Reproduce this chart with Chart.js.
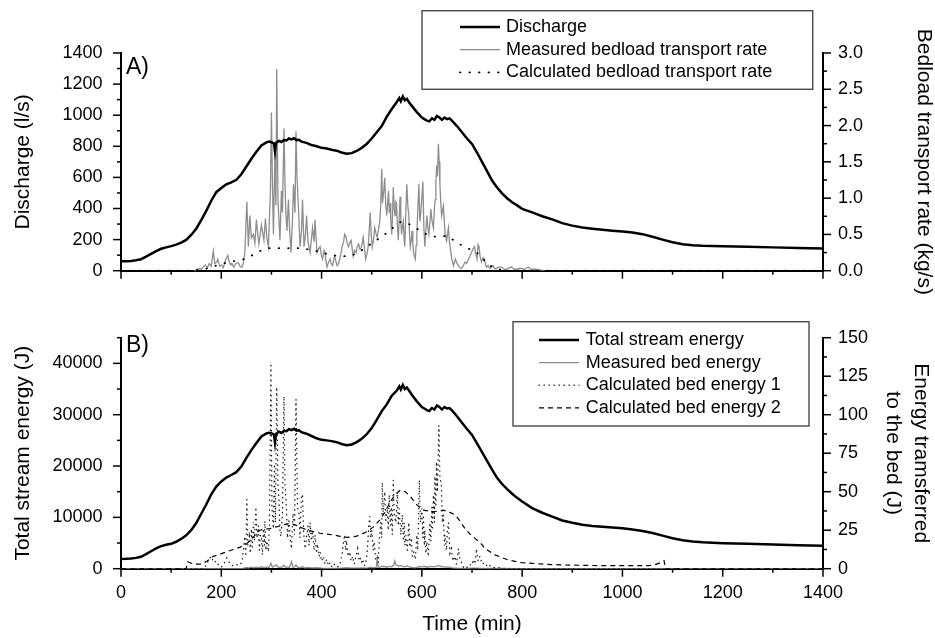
<!DOCTYPE html>
<html>
<head>
<meta charset="utf-8">
<script src="https://cdn.jsdelivr.net/npm/chart.js@4.4.1/dist/chart.umd.min.js"></script>
<style>
  html, body { margin: 0; padding: 0; background: #fff; }
  #wrap { position: relative; width: 935px; height: 638px; }
  canvas { position: absolute; left: 0; }
  #panelA { top: 0; }
  #panelB { top: 300px; }
</style>
</head>
<body>
<div id="wrap">
  <canvas id="panelA" width="935" height="300"></canvas>
  <canvas id="panelB" width="935" height="338"></canvas>
</div>
<script>
// ---- Data: [time (min), value] ----
const discharge = [ // l/s
  [0,60],[10,61],[20,63],[30,67],[40,74],[50,90],[60,108],[70,126],[80,141],[90,150],
  [100,158],[110,168],[120,180],[130,198],[140,230],[150,270],[160,325],[170,385],[180,450],[190,505],
  [200,532],[210,556],[220,568],[230,585],[240,620],[250,670],[260,720],[270,765],[280,805],[290,825],
  [295,830],[300,826],[305,818],[307,770],[309,822],[315,835],[320,828],[325,840],[330,838],[335,850],
  [340,844],[345,852],[350,840],[355,842],[360,830],[370,822],[380,808],[390,800],[400,790],[410,786],
  [420,778],[430,772],[440,760],[450,752],[460,756],[470,770],[480,790],[490,815],[500,850],[510,890],
  [520,930],[530,990],[540,1040],[550,1085],[555,1110],[558,1090],[562,1120],[566,1095],[570,1105],[575,1080],
  [580,1060],[590,1020],[600,985],[605,975],[610,965],[615,960],[620,980],[625,970],[630,995],[635,985],
  [640,970],[645,985],[650,975],[655,980],[660,965],[670,930],[680,890],[690,850],[700,815],[710,760],
  [720,700],[730,640],[740,580],[750,535],[760,497],[770,466],[780,440],[790,420],[800,398],[820,375],
  [840,350],[860,330],[880,306],[900,290],[920,278],[940,270],[960,263],[980,257],[1000,252],[1020,245],
  [1040,235],[1060,218],[1080,200],[1100,183],[1120,170],[1140,164],[1160,161],[1200,158],[1250,154],[1300,150],
  [1350,146],[1400,142]
];

const measuredBedload = [ // kg/s
  [145,0],[150,0.01],[155,0.03],[160,0.02],[165,0.06],[168,0.08],[172,0.04],[176,0.10],[180,0.06],[184,0.27],
  [187,0.10],[191,0.12],[193,0.16],[197,0.06],[200,0.08],[204,0.04],[208,0.14],[211,0.18],[213,0.21],[216,0.12],
  [219,0.08],[221,0.10],[225,0.05],[229,0.10],[234,0.11],[237,0.06],[241,0.05],[244,0.10],[247,0.25],[251,0.95],
  [254,0.33],[257,0.76],[260,0.45],[264,0.50],[267,0.38],[270,0.70],[273,0.48],[275,0.37],[280,0.63],[283,0.50],
  [285,0.42],[288,0.72],[291,0.45],[294,0.33],[298,1.10],[300,2.18],[302,1.20],[304,0.50],[307,1.62],[309,0.90],
  [310.6,2.78],[313,0.98],[317,0.42],[320,1.10],[322,0.80],[325,1.96],[327,1.20],[329,0.76],[331,0.55],[334,0.98],
  [336,0.60],[339,0.25],[342,0.70],[344,1.19],[347,0.80],[349,1.92],[351,1.30],[354,0.85],[357,0.33],[360,0.55],
  [362,0.98],[365,0.33],[368,0.50],[370,0.76],[373,0.40],[377,0.25],[380,0.45],[382,0.59],[385,0.40],[387,0.70],
  [389,0.45],[391,0.25],[394,0.30],[397,0.33],[400,0.20],[402,0.16],[405,0.28],[407,0.25],[409,0.12],[411,0.05],
  [414,0.12],[417,0.16],[419,0.10],[422,0.07],[424,0.14],[426,0.20],[429,0.12],[431,0.07],[434,0.10],[436,0.16],
  [439,0.25],[441,0.33],[444,0.40],[446,0.50],[449,0.46],[451,0.38],[454,0.33],[457,0.40],[459,0.42],[461,0.30],
  [463,0.20],[466,0.28],[469,0.25],[471,0.33],[474,0.37],[476,0.30],[478,0.29],[481,0.38],[483,0.46],[486,0.28],
  [488,0.16],[491,0.25],[493,0.33],[495,0.55],[497,0.80],[499,0.50],[501,0.33],[504,0.45],[506,0.59],[509,0.50],
  [511,0.46],[513,0.55],[516,0.68],[518,0.90],[520,1.40],[521.5,0.93],[524,1.10],[526,1.28],[528,0.90],[530,0.76],
  [532,0.95],[533.5,1.10],[535,0.80],[536.5,0.93],[538,0.70],[540,0.50],[541.5,0.75],[543,1.15],[545,0.85],[546.5,0.76],
  [548,0.95],[549.5,0.93],[551,0.65],[553,0.42],[555,0.75],[556.5,1.02],[558,0.70],[559.5,0.50],[561,0.60],[563,0.68],
  [564.5,0.45],[566,0.33],[568,0.80],[570,1.19],[572,0.90],[574,0.76],[575.5,0.50],[577,0.33],[579,0.42],[580.5,0.55],
  [582,0.38],[583.5,0.25],[585,0.20],[587,0.16],[588.5,0.35],[590,0.50],[592,0.85],[594,1.19],[596,0.68],[598,0.80],
  [600,1.00],[602,1.23],[604,0.60],[606,0.33],[608,0.55],[610,0.76],[612,0.60],[614,0.50],[616,0.65],[618,0.85],
  [620,0.70],[623,0.59],[625,0.85],[626.5,0.98],[628,1.20],[629.5,1.45],[631,1.30],[633,1.75],[634.5,1.50],[636,1.19],
  [638,0.90],[639.5,0.76],[641,0.82],[643,0.89],[645,0.65],[646.5,0.50],[648,0.45],[649.5,0.42],[651,0.50],[653,0.59],
  [655,0.40],[658,0.25],[660,0.15],[663,0.07],[665,0.12],[667,0.16],[670,0.10],[673,0.07],[676,0.04],[679,0.03],
  [682,0.06],[686,0.12],[689,0.10],[693,0.16],[696,0.20],[699,0.25],[702,0.30],[705,0.33],[707,0.25],[710,0.16],
  [712,0.36],[714,0.33],[716,0.20],[719,0.12],[722,0.18],[725,0.16],[727,0.08],[729,0.05],[732,0.07],[736,0.03],
  [739,0.06],[742,0.07],[745,0.03],[749,0.03],[752,0.05],[756,0.05],[759,0.05],[764,0.02],[769,0.02],[774,0.04],
  [779,0.05],[784,0.02],[789,0.02],[794,0.03],[799,0.03],[805,0.02],[812,0.05],[818,0.02],[826,0.02],[835,0.01],
  [845,0]
];

const calculatedBedload = [ // kg/s
  [0,0],[140,0],[150,0.01],[160,0.02],[171,0.03],[185,0.06],[198,0.09],[211,0.11],[224,0.13],[240,0.15],
  [254,0.18],[268,0.24],[280,0.28],[294,0.31],[310,0.31],[327,0.31],[345,0.31],[360,0.31],[375,0.29],[390,0.27],
  [405,0.24],[424,0.21],[440,0.20],[457,0.20],[470,0.24],[480,0.28],[490,0.33],[505,0.40],[523,0.48],[540,0.58],
  [557,0.67],[570,0.66],[585,0.60],[597,0.55],[610,0.50],[624,0.47],[637,0.47],[650,0.48],[663,0.42],[677,0.36],
  [690,0.31],[703,0.28],[715,0.22],[726,0.13],[736,0.07],[746,0.03],[760,0.01],[775,0],[1400,0]
];

const totalStreamEnergy = [ // J
  [0,1900],[10,1930],[20,1990],[30,2110],[40,2330],[50,2830],[60,3400],[70,3970],[80,4400],[90,4650],
  [100,4850],[110,5250],[120,5800],[130,6500],[140,7500],[150,8900],[160,10700],[170,12500],[180,14500],[190,16000],
  [200,17000],[210,17750],[220,18250],[230,18800],[240,19900],[250,21600],[260,23100],[270,24500],[280,25750],[290,26350],
  [295,26500],[300,26400],[305,26150],[307,24600],[309,26250],[315,26700],[320,26450],[325,26850],[330,26800],[335,27200],
  [340,27000],[345,27250],[350,26900],[355,26950],[360,26600],[370,26300],[380,25850],[390,25400],[400,25100],[410,25000],
  [420,24850],[430,24650],[440,24300],[450,24050],[460,24200],[470,24650],[480,25300],[490,26200],[500,27400],[510,29000],
  [520,30700],[530,32000],[540,33700],[550,34700],[555,35500],[558,34900],[562,35800],[566,35000],[570,35300],[575,34600],
  [580,33900],[590,32600],[600,31500],[605,31200],[610,30900],[615,30700],[620,31300],[625,31000],[630,31800],[635,31500],
  [640,31000],[645,31500],[650,31200],[655,31300],[660,30850],[670,29700],[680,28450],[690,27200],[700,26050],[710,24400],
  [720,22700],[730,21000],[740,19300],[750,17700],[760,16500],[770,15500],[780,14600],[790,13800],[800,13100],[820,11800],
  [840,10900],[860,10150],[880,9400],[900,8950],[920,8550],[940,8330],[960,8170],[980,8030],[1000,7870],[1020,7650],
  [1040,7350],[1060,6950],[1080,6450],[1100,5950],[1120,5560],[1140,5280],[1160,5150],[1200,4980],[1250,4860],[1300,4730],
  [1350,4580],[1400,4450]
];

const measuredBedEnergy = [ // J
  [0,0],[240,0],[245,0.3],[250,0.8],[255,0.5],[260,1.0],[265,0.6],[270,0.9],[275,0.6],[280,1.2],
  [285,0.7],[290,1.0],[295,0.8],[299,3.5],[302,1.0],[306,1.6],[310,2.6],[313,1.0],[318,0.8],[322,1.4],
  [325,2.2],[328,1.0],[332,1.2],[336,0.7],[340,4.5],[343,1.0],[346,1.2],[349,2.4],[352,1.0],[357,0.6],
  [362,1.2],[366,0.5],[372,0.8],[380,0.5],[390,0.6],[400,0.3],[410,0.2],[420,0.2],[430,0.2],[440,0.4],
  [450,0.6],[460,0.4],[470,0.4],[480,0.5],[490,0.4],[497,0.9],[503,0.6],[509,0.8],[511,6.5],[513,0.9],
  [518,1.2],[522,1.6],[526,1.4],[530,1.0],[535,1.5],[540,1.2],[544,2.5],[546,5.0],[548,2.8],[551,2.2],
  [555,1.8],[558,2.0],[562,1.5],[566,1.2],[570,1.8],[575,1.2],[580,0.8],[585,0.6],[590,0.8],[595,1.4],
  [600,1.2],[605,1.6],[610,1.0],[615,1.3],[620,1.5],[625,1.2],[630,1.7],[634,2.0],[638,1.4],[643,1.2],
  [648,1.0],[653,1.2],[660,0.5],[670,0.3],[680,0.2],[690,0.2],[700,0.4],[710,0.4],[720,0.2],[740,0.1],
  [760,0.1],[800,0],[1400,0]
];

const calculatedBedEnergy1 = [ // J
  [0,0],[160,0],[170,2],[175,6],[180,8],[185,4],[190,5],[195,2],[200,1],[205,3],
  [211,7],[216,4],[222,2],[228,3],[235,2],[241,4],[244,12],[247,21],[249,8],[251,45],
  [253,15],[256,21],[258,10],[260,26],[262,14],[264,30],[266,18],[269,40],[271,20],[274,28],
  [276,12],[278,22],[280,21],[282,9],[284,26],[286,15],[287,31],[289,12],[291,18],[294,11],
  [296,30],[299,132],[301,40],[304,26],[306,68],[308,30],[310.6,118],[313,55],[315,45],[317,25],
  [319,21],[322,35],[325,112],[327,55],[330,39],[332,20],[335,31],[338,18],[340,13],[343,36],
  [346,22],[349,110],[352,40],[355,36],[357,20],[360,48],[362,48],[364,25],[367,13],[370,20],
  [373,28],[375,15],[377,30],[380,18],[382,25],[385,12],[387,22],[390,10],[392,16],[395,8],
  [397,11],[400,5],[404,8],[407,3],[410,6],[414,2],[417,4],[421,1],[425,3],[430,1],
  [436,2],[441,10],[444,18],[446,22],[448,12],[450,16],[453,8],[456,11],[459,5],[462,8],
  [465,3],[467,6],[470,10],[472,13],[475,5],[478,7],[481,3],[483,5],[486,2],[488,4],
  [490,8],[492,15],[494,28],[496,34],[498,20],[500,25],[503,12],[505,17.5],[508,6],[511,8],
  [513,4],[515,18],[518,30],[520,20],[521,56],[523,35],[526,50],[528,30],[531,39],[533,25],
  [535,48],[537,28],[539,40],[541,22],[543,57.6],[545,35],[548,30],[550,42],[551,50],[553,28],
  [555,39],[558,22],[561,35],[563,18],[565,30],[566,15],[568,22],[571,12],[574,30],[576,14],
  [579,20],[581,8],[584,11],[587,6],[590,22],[592,12],[595,57.6],[597,30],[600,39],[602,20],
  [603,35],[605,15],[606,25],[608,10],[610,17.5],[613,8],[616,30],[618,18],[620,40],[621,25],
  [623,48],[625,30],[626,60],[628,40],[629,69.5],[631,50],[634,93],[636,60],[639,54],[641,30],
  [643,35],[645,15],[646,22],[649,12],[651,25],[653,30],[656,10],[659,13],[662,5],[666,8],
  [669,3],[673,13],[676,6],[679,4],[683,1],[686,2],[690,1],[695,3],[699,2],[703,6],
  [706,3],[709,13],[712,5],[716,8],[720,3],[726,4],[731,1],[736,2],[742,0.5],[750,1],
  [760,0.3],[770,0],[1400,0]
];

const calculatedBedEnergy2 = [ // J
  [0,0],[130,0],[133,4.5],[145,3.0],[160,3],[172,5],[184,8],[198,9.5],[211,11],[224,12.5],
  [238,14],[250,16],[258,18.6],[268,22],[277,25],[287,25.8],[297,26],[307,27],[317,27.7],[327,28.8],
  [337,29.5],[347,28.5],[357,27],[367,25.7],[377,24.7],[387,23.8],[397,23],[410,22.5],[424,21.9],[437,21],
  [450,20.4],[460,20.6],[470,21.2],[480,22.5],[490,24],[503,27],[516,31.6],[527,37],[537,43.5],[547,48],
  [557,51],[567,50],[577,47],[587,42.5],[595,40],[603,38],[614,37.5],[624,37],[634,37.5],[643,38],
  [653,37],[666,35],[676,31],[686,26],[696,22.5],[706,19.7],[719,16],[726,13],[736,11],[746,9],
  [760,7.2],[773,5.6],[786,4.8],[799,4.0],[819,3.5],[850,2.8],[886,2.4],[920,2.2],[952,2.0],[1000,2.0],
  [1052,2.0],[1065,2.6],[1075,3.8],[1083,5.2],[1086,0],[1400,0]
];

// Axis ranges: labelled step, and the finer step of the short tick marks
const timeTicks = { min: 0, max: 1400, major: 200, minor: 100 };
const dischargeTicks = { min: 0, max: 1400, major: 200, minor: 100 };
const bedloadTicks = { min: 0, max: 3, major: 0.5, minor: 0.25 };
const energyTicks = { min: 0, max: 45000, major: 10000, minor: 5000 };
const bedEnergyTicks = { min: 0, max: 150, major: 25, minor: 12.5 };

// ---- Helpers & plugins ----
const FONT = "'Liberation Sans', Arial, Helvetica, sans-serif";
Chart.defaults.font.family = FONT;
Chart.defaults.color = '#000';

const toXY = pairs => pairs.map(p => ({ x: p[0], y: p[1] }));
const isMajor = (v, spec) => {
  const r = v / spec.major;
  return Math.abs(r - Math.round(r)) < 1e-6;
};

// Outward tick marks: long at major steps, short at minor steps
const axisTicks = {
  id: 'axisTicks',
  afterDraw(chart, args, opts) {
    const ctx = chart.ctx;
    ctx.save();
    ctx.strokeStyle = '#000';
    ctx.lineWidth = 1.5;
    for (const id of Object.keys(opts.scales || {})) {
      const s = chart.scales[id];
      const spec = opts.scales[id];
      if (!s) continue;
      const n = Math.round((spec.max - spec.min) / spec.minor);
      for (let i = 0; i <= n; i++) {
        const v = spec.min + i * spec.minor;
        const len = isMajor(v, spec) ? 8 : 4;
        const p = s.getPixelForValue(v);
        ctx.beginPath();
        if (s.position === 'bottom') { ctx.moveTo(p, s.top); ctx.lineTo(p, s.top + len); }
        else if (s.position === 'left') { ctx.moveTo(s.right, p); ctx.lineTo(s.right - len, p); }
        else { ctx.moveTo(s.left, p); ctx.lineTo(s.left + len, p); }
        ctx.stroke();
      }
    }
    ctx.restore();
  }
};

// Boxed legend listing every dataset with its own line style
const boxLegend = {
  id: 'boxLegend',
  afterDraw(chart, args, o) {
    const ctx = chart.ctx;
    ctx.save();
    ctx.fillStyle = '#fff';
    ctx.fillRect(o.left, o.top, o.width, o.height);
    ctx.strokeStyle = '#4a4a4a';
    ctx.lineWidth = 1.4;
    ctx.strokeRect(o.left, o.top, o.width, o.height);
    ctx.font = '18px ' + FONT;
    ctx.textBaseline = 'middle';
    ctx.textAlign = 'left';
    chart.data.datasets.forEach((ds, i) => {
      const y = o.rowTop + i * o.rowGap;
      ctx.beginPath();
      ctx.setLineDash(ds.borderDash || []);
      ctx.lineCap = ds.borderCapStyle || 'butt';
      ctx.strokeStyle = ds.borderColor;
      ctx.lineWidth = ds.borderWidth;
      ctx.moveTo(o.sampleFrom, y);
      ctx.lineTo(o.sampleTo, y);
      ctx.stroke();
      ctx.setLineDash([]);
      ctx.fillStyle = '#000';
      ctx.fillText(ds.label, o.textX, y);
    });
    ctx.restore();
  }
};

// Panel letter in the upper-left corner of the plot
const panelTag = {
  id: 'panelTag',
  afterDraw(chart, args, o) {
    const ctx = chart.ctx;
    ctx.save();
    ctx.font = '23px ' + FONT;
    ctx.fillStyle = '#000';
    ctx.textBaseline = 'alphabetic';
    ctx.fillText(o.text, o.x, o.y);
    ctx.restore();
  }
};

const noGrid = { display: false, drawTicks: false };
const axisBorder = { display: true, color: '#000', width: 2 };
const tickFont = { size: 18 };

// Value axis: ticks generated at the minor step, labelled only at the major step
function valueAxis(spec, position, labelPad, fmt, title, width) {
  return {
    type: 'linear',
    position,
    min: spec.min,
    max: spec.max,
    grid: noGrid,
    border: axisBorder,
    ticks: {
      stepSize: spec.minor,
      padding: labelPad,
      font: tickFont,
      autoSkip: false,
      callback: v => (isMajor(v, spec) ? fmt(v) : '')
    },
    title,
    afterFit: s => { s.width = width; }
  };
}

// ---- Panel A: discharge and bedload transport ----
new Chart(document.getElementById('panelA'), {
  type: 'line',
  data: {
    datasets: [
      { label: 'Discharge', data: toXY(discharge), yAxisID: 'y',
        borderColor: '#000', borderWidth: 2.5, order: 0 },
      { label: 'Measured bedload transport rate', data: toXY(measuredBedload), yAxisID: 'y1',
        borderColor: '#8e8e8e', borderWidth: 1.3, order: 2 },
      { label: 'Calculated bedload transport rate', data: toXY(calculatedBedload), yAxisID: 'y1',
        borderColor: '#000', borderWidth: 1.8, borderDash: [0.5, 9], borderCapStyle: 'round', order: 1 }
    ]
  },
  options: {
    responsive: false,
    animation: false,
    devicePixelRatio: 1,
    layout: { padding: { top: 53, left: 0, right: 0, bottom: 0 } },
    elements: { point: { radius: 0 }, line: { tension: 0, fill: false } },
    scales: {
      x: {
        type: 'linear', position: 'bottom', min: timeTicks.min, max: timeTicks.max,
        grid: noGrid, border: axisBorder,
        ticks: { display: false, stepSize: timeTicks.major },
        afterFit: s => { s.height = 14.3; }
      },
      y: valueAxis(dischargeTicks, 'left', 18.5, v => String(v),
        { display: true, text: 'Discharge (l/s)', font: { size: 21 }, padding: { top: 10.4, bottom: 0 } }, 121),
      y1: valueAxis(bedloadTicks, 'right', 15, v => v.toFixed(1),
        { display: true, text: 'Bedload transport rate (kg/s)', font: { size: 21, lineHeight: 1.1 }, padding: { top: 0, bottom: 0 } }, 112)
    },
    plugins: {
      legend: { display: false },
      tooltip: { enabled: false },
      axisTicks: { scales: { x: timeTicks, y: dischargeTicks, y1: bedloadTicks } },
      boxLegend: { left: 422, top: 10.7, width: 390.7, height: 78.6, sampleFrom: 460, sampleTo: 500, textX: 506, rowTop: 27, rowGap: 22.7 },
      panelTag: { text: 'A)', x: 126, y: 74 }
    }
  },
  plugins: [axisTicks, boxLegend, panelTag]
});

// ---- Panel B: stream energy and energy transferred to the bed ----
new Chart(document.getElementById('panelB'), {
  type: 'line',
  data: {
    datasets: [
      { label: 'Total stream energy', data: toXY(totalStreamEnergy), yAxisID: 'y',
        borderColor: '#000', borderWidth: 2.5, order: 0 },
      { label: 'Measured bed energy', data: toXY(measuredBedEnergy), yAxisID: 'y1',
        borderColor: '#8e8e8e', borderWidth: 1.4, order: 3 },
      { label: 'Calculated bed energy 1', data: toXY(calculatedBedEnergy1), yAxisID: 'y1',
        borderColor: '#1a1a1a', borderWidth: 1.3, borderDash: [0.4, 4.6], borderCapStyle: 'round', order: 1 },
      { label: 'Calculated bed energy 2', data: toXY(calculatedBedEnergy2), yAxisID: 'y1',
        borderColor: '#000', borderWidth: 1.2, borderDash: [5, 4], order: 2 }
    ]
  },
  options: {
    responsive: false,
    animation: false,
    devicePixelRatio: 1,
    layout: { padding: { top: 37.7, left: 0, right: 0, bottom: 0 } },
    elements: { point: { radius: 0 }, line: { tension: 0, fill: false } },
    scales: {
      x: {
        type: 'linear', position: 'bottom', min: timeTicks.min, max: timeTicks.max,
        grid: noGrid, border: axisBorder,
        ticks: { stepSize: timeTicks.major, padding: 14, font: tickFont, maxRotation: 0, callback: v => String(v) },
        title: { display: true, text: 'Time (min)', font: { size: 21 }, padding: { top: 0, bottom: 0.7 } },
        afterFit: s => { s.height = 69.3; }
      },
      y: valueAxis(energyTicks, 'left', 18.5, v => String(v),
        { display: true, text: 'Total stream energy (J)', font: { size: 21 }, padding: { top: 10.4, bottom: 0 } }, 121),
      y1: valueAxis(bedEnergyTicks, 'right', 15, v => String(v),
        { display: true, text: ['Energy tramsferred', 'to the bed (J)'], font: { size: 21, lineHeight: 1.333 }, padding: { top: 0, bottom: 0 } }, 112)
    },
    plugins: {
      legend: { display: false },
      tooltip: { enabled: false },
      axisTicks: { scales: { x: timeTicks, y: energyTicks, y1: bedEnergyTicks } },
      boxLegend: { left: 513, top: 21.7, width: 296, height: 104.3, sampleFrom: 539, sampleTo: 579, textX: 585.7, rowTop: 40, rowGap: 22.6 },
      panelTag: { text: 'B)', x: 126, y: 52 }
    }
  },
  plugins: [axisTicks, boxLegend, panelTag]
});
</script>
</body>
</html>
